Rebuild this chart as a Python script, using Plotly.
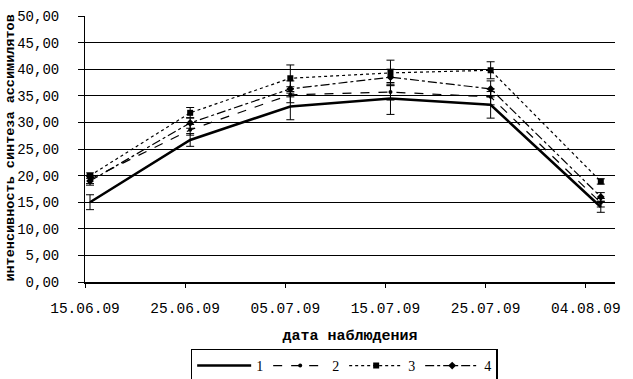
import plotly.graph_objects as go
import pandas as pd

dates = ["2009-06-15", "2009-06-25", "2009-07-05", "2009-07-15", "2009-07-25", "2009-08-05"]
series_names = ["1", "2", "3", "4"]
s1 = [15.0, 26.7, 33.0, 34.5, 33.3, 14.1]
s2 = [19.3, 28.6, 35.2, 35.7, 34.8, 14.9]
s3 = [20.0, 31.8, 38.3, 39.3, 39.8, 18.9]
s4 = [19.0, 29.9, 36.3, 38.5, 36.3, 16.0]
e1 = [1.4, 1.2, 2.5, 3.0, 2.5, 1.0]
e2 = [0.8, 1.0, 1.5, 1.5, 1.5, 0.8]
e3 = [0.5, 1.0, 2.5, 2.4, 1.6, 0.5]
e4 = [0.8, 1.0, 1.5, 1.5, 1.5, 0.8]

# Excel date axis: each point sits in the middle of its day slot
x = pd.to_datetime(dates) + pd.Timedelta(hours=12)

styles = [
    dict(line=dict(color="black", width=2.5, dash="solid"), mode="lines", marker=dict()),
    dict(line=dict(color="black", width=1.2, dash="dash"), mode="lines+markers",
         marker=dict(symbol="circle", size=4, color="black")),
    dict(line=dict(color="black", width=1.2, dash="dot"), mode="lines+markers",
         marker=dict(symbol="square", size=6, color="black")),
    dict(line=dict(color="black", width=1.2, dash="dashdot"), mode="lines+markers",
         marker=dict(symbol="diamond", size=6, color="black")),
]

fig = go.Figure()
for name, vals, errs, st in zip(series_names, [s1, s2, s3, s4], [e1, e2, e3, e4], styles):
    fig.add_trace(go.Scatter(
        x=x, y=vals, name=name, mode=st["mode"], line=st["line"], marker=st["marker"],
        error_y=dict(type="data", array=errs, visible=True, color="black", thickness=1, width=4),
    ))

fig.update_layout(
    width=633, height=379,
    margin=dict(l=85, r=18, t=16, b=97, autoexpand=False),
    paper_bgcolor="white", plot_bgcolor="white",
    separators=", ",
    font=dict(family="Liberation Mono", size=13, color="black"),
    showlegend=True,
    legend=dict(
        orientation="h", x=0.489, xanchor="center", y=-0.25, yanchor="top",
        bordercolor="black", borderwidth=1.5, bgcolor="white",
        font=dict(family="Liberation Serif", size=14, color="black"),
        itemwidth=54, tracegroupgap=0,
    ),
    xaxis=dict(
        type="date", automargin=False,
        range=["2009-06-15", "2009-08-06 22:00"],
        tick0="2009-06-15", dtick=10 * 86400000,
        tickformat="%d.%m.%y",
        ticks="outside", ticklen=4, tickcolor="black",
        ticklabelstandoff=8,
        showgrid=False, showline=True, linecolor="black", linewidth=1.5,
        zeroline=False,
        tickfont=dict(family="Liberation Mono", size=14.5),
        title=dict(text="<b>дата наблюдения</b>", standoff=13,
                   font=dict(family="Liberation Mono", size=15)),
    ),
    yaxis=dict(
        automargin=False,
        range=[0, 50], dtick=5, tickformat=".2f",
        ticks="outside", ticklen=6, tickcolor="black",
        ticklabelstandoff=16,
        showgrid=True, gridcolor="black", gridwidth=1,
        showline=True, linecolor="black", linewidth=1,
        zeroline=False,
        tickfont=dict(family="Liberation Mono", size=14),
    ),
    annotations=[dict(
        text="<b>интенсивность синтеза ассимилятов</b>",
        textangle=-90, xref="paper", yref="paper",
        x=-0.158, xanchor="left", y=-0.005, yanchor="bottom",
        showarrow=False,
        font=dict(family="Liberation Mono", size=13.5, color="black"),
    )],
)

fig.write_html("out.html", config={"displayModeBar": False},
               post_script="document.body.style.margin='0';")
